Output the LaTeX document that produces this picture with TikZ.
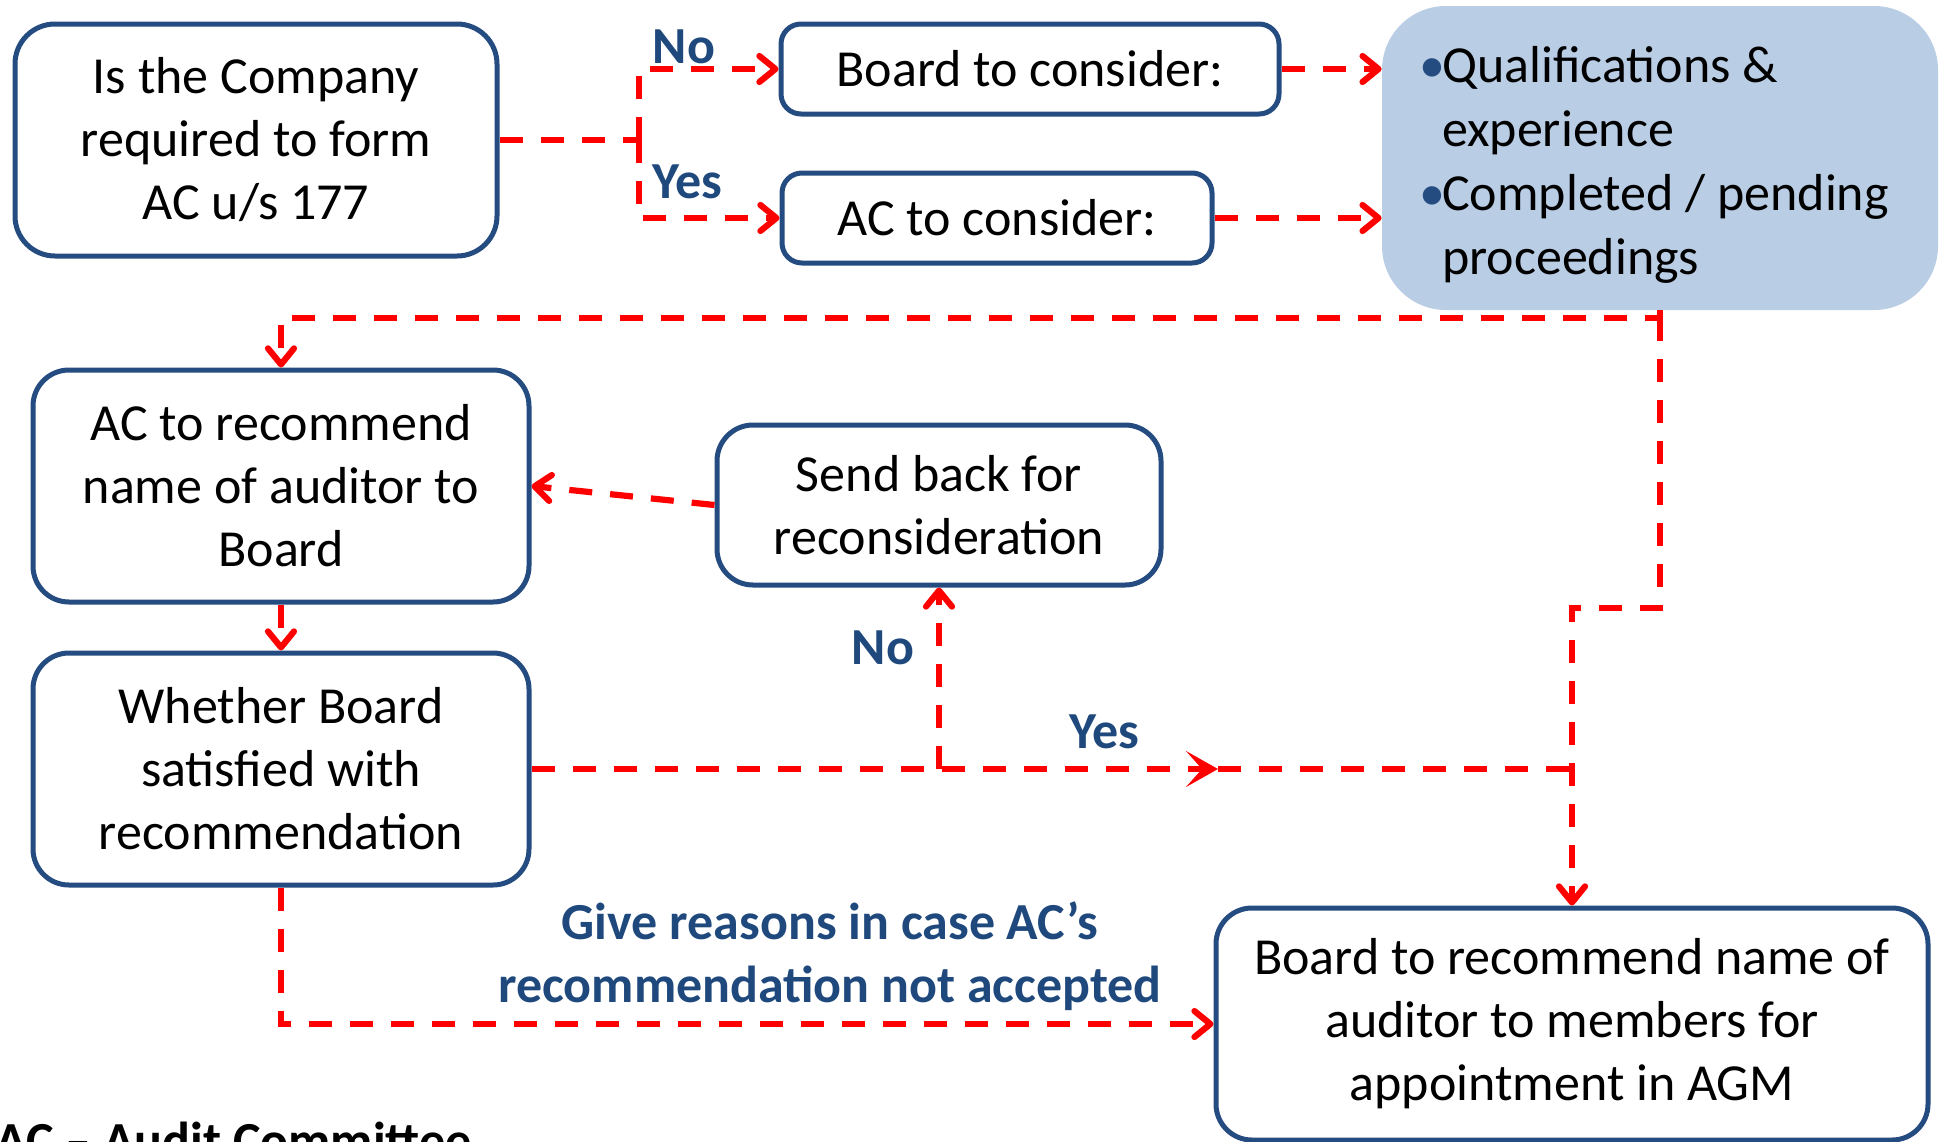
\documentclass[tikz,border=0pt]{standalone}
\usepackage{fontspec}
\setmainfont{Carlito}
\usetikzlibrary{arrows.meta}
\definecolor{boxblue}{RGB}{37,76,128}
\definecolor{labelblue}{RGB}{31,73,125}
\definecolor{panelblue}{RGB}{185,205,229}
\definecolor{flowred}{RGB}{255,0,0}
\newlength\bulw
\setlength\bulw{11.5pt}
\newcommand\bulitem{\makebox[\bulw][l]{\textcolor{boxblue}{•}}}
\tikzset{
  stepbox/.style={draw=boxblue, line width=2.5pt, rounded corners=18pt,
    align=center, inner sep=0pt, fill=white,
    font=\fontsize{26}{31.5}\selectfont},
  panel/.style={fill=panelblue, rounded corners=32pt, align=left, inner sep=0pt,
    font=\fontsize{26}{32}\selectfont},
  flowline/.style={draw=flowred, line width=3.1pt, dash pattern=on 11.5pt off 9pt},
  flowarrow/.style={flowline, -{Straight Barb[length=8pt,width=13pt,round]}},
  chevron/.style={flowline, -{Stealth[length=16pt,width=18pt,inset=8pt]}},
  lbl/.style={text=labelblue, font=\fontsize{26}{31.5}\selectfont\bfseries, align=center, inner sep=0pt}
}
\begin{document}
\begin{tikzpicture}[x=0.5pt,y=-0.5pt]
\useasboundingbox (0,0) rectangle (1942,1141);

% boxes
\node[stepbox, minimum width=241pt, minimum height=116pt, rounded corners=20pt] (b1) at (256,140)
  {Is the Company\\required to form\\AC u/s 177};
\node[stepbox, minimum width=249pt, minimum height=45pt, rounded corners=10pt] (board) at (1030,69)
  {Board to consider:};
\node[stepbox, minimum width=215pt, minimum height=45pt, rounded corners=10pt] (acc) at (997,218)
  {AC to consider:};
\node[panel, minimum width=278pt, minimum height=152pt] (blue) at (1660,158)
  {\rule{0pt}{25pt}\bulitem Qualifications \&\\\hspace*{\bulw}experience\\\bulitem Completed / pending\makebox[6pt]{}\\\hspace*{\bulw}proceedings};
\node[stepbox, minimum width=248pt, minimum height=116pt] (acrec) at (281,486)
  {AC to recommend\\name of auditor to\\Board};
\node[stepbox, minimum width=222pt, minimum height=80pt] (send) at (939,505)
  {Send back for\\reconsideration};
\node[stepbox, minimum width=248pt, minimum height=116pt] (whether) at (281,769)
  {Whether Board\\satisfied with\\recommendation};
\node[stepbox, minimum width=356pt, minimum height=116pt] (boardrec) at (1572,1024)
  {Board to recommend name of\\auditor to members for\\appointment in AGM};

% junction points
\coordinate (split1) at (639,140);
\coordinate (blueturn) at (1660,318);
\coordinate (stepA) at (1660,608);
\coordinate (nobr) at (939,769);
\coordinate (yesmid) at (1218,769);
\coordinate (join) at (1572,769);

% connectors
\draw[flowline] (b1.east) -- (split1);
\draw[flowarrow] (split1) |- (board.west);
\draw[flowarrow] (split1) |- (acc.west);
\draw[flowarrow] (board.east) -- (board.east -| blue.west);
\draw[flowarrow] (acc.east) -- (acc.east -| blue.west);
\draw[flowarrow] (blue.south) -- (blueturn) -| (acrec.north);
\draw[flowarrow] (blueturn) -- (stepA) -| (boardrec.north);
\draw[flowarrow] (acrec.south) -- (whether.north);
\draw[flowarrow] (send.west) -- (acrec.east);
\draw[chevron] (whether.east) -- (yesmid);
\draw[flowline] (yesmid) -- (join);
\draw[flowarrow] (nobr) -- (send.south);
\draw[flowarrow] (whether.south) |- (boardrec.west);

% labels
\node[lbl] (lno1) at (684,47) {No};
\node[lbl] (lyes1) at (687,182) {Yes};
\node[lbl] (lno2) at (883,648) {No};
\node[lbl] (lyes2) at (1104,732) {Yes};
\node[lbl] (lreason) at (830,956) {Give reasons in case AC’s\\recommendation not accepted};

% footnote
\node[anchor=base west, inner sep=0pt, font=\fontsize{26}{31.5}\selectfont\bfseries] (abbr) at (-5,1158)
  {AC – Audit Committee};
\end{tikzpicture}
\end{document}
